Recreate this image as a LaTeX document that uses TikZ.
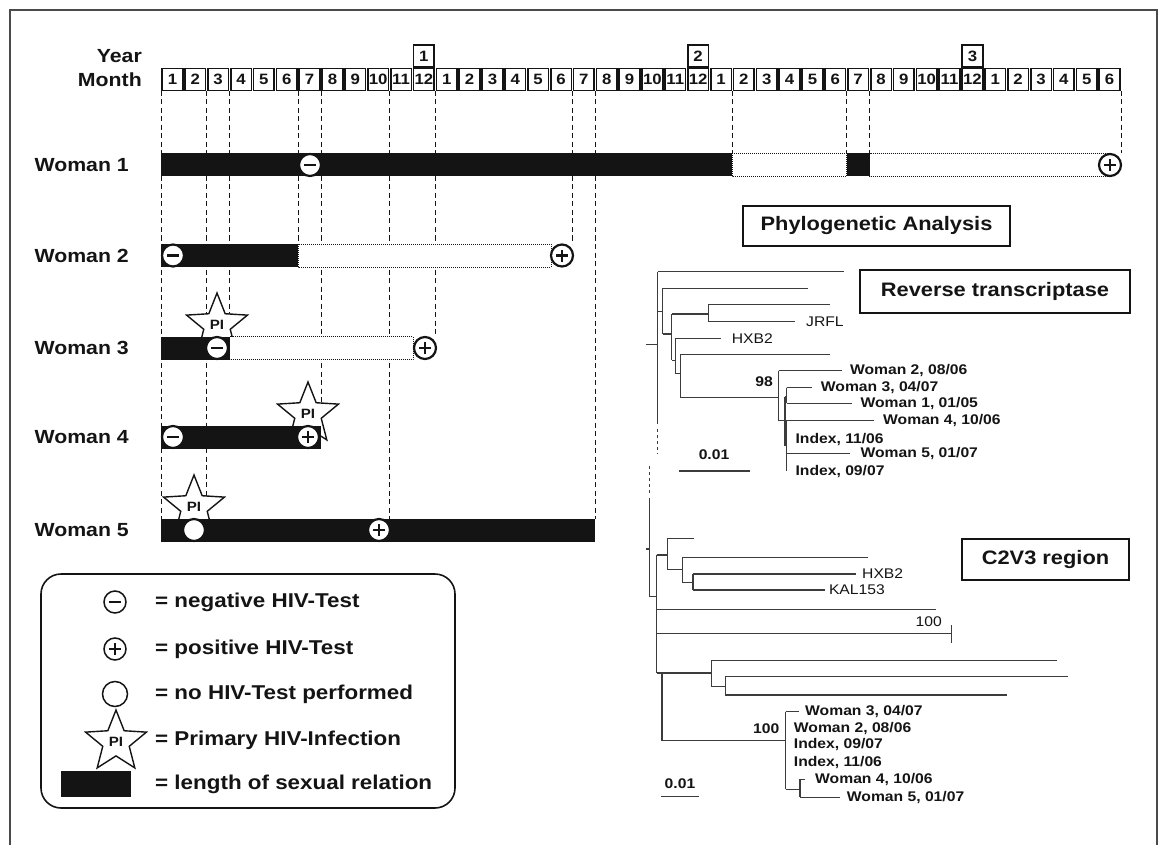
\documentclass[tikz,border=0pt]{standalone}
\usepackage{fontspec}
\setmainfont{Liberation Sans}[FakeStretch=1.12]
\usepackage{xcolor}
\usepackage{tikz}
\usetikzlibrary{shapes.geometric}
\definecolor{tlInk}{HTML}{141414}
\definecolor{tlFrame}{HTML}{4A4A4A}
\definecolor{tlTree}{HTML}{3C3C3C}
\tikzset{
  tl diagram/.style={x=1pt, y=-1pt, text=tlInk},
  tl label/.style={font=\fontsize{19}{21}\selectfont\bfseries, anchor=east, inner sep=0pt},
  tl key/.style={font=\fontsize{20}{22}\selectfont\bfseries, anchor=west, inner sep=0pt},
  tl cell/.style={draw=tlInk, fill=white, line width=1.6pt, minimum width=20.6pt,
    minimum height=22pt, inner sep=0pt, font=\fontsize{15}{15}\selectfont\bfseries},
  tl guide/.style={draw=tlInk, line width=1pt, dash pattern=on 5pt off 3.5pt},
  tl bar/.style={fill=tlInk},
  tl gap/.style={draw=tlInk, line width=1pt, densely dotted, fill=white},
  tl test/.style={circle, draw=tlInk, fill=white, line width=2.2pt,
    minimum size=22pt, inner sep=0pt},
  tl neg/.style={tl test, path picture={
    \draw[tlInk, line width=2.6pt] ([xshift=-6pt]path picture bounding box.center)
      -- ([xshift=6pt]path picture bounding box.center);}},
  tl pos/.style={tl test, path picture={
    \draw[tlInk, line width=2.6pt] ([xshift=-6pt]path picture bounding box.center)
      -- ([xshift=6pt]path picture bounding box.center)
      ([yshift=-6pt]path picture bounding box.center)
      -- ([yshift=6pt]path picture bounding box.center);}},
  tl star/.style={star, star points=5, star point ratio=2.3, minimum size=64pt,
    draw=tlInk, fill=white, line width=1.4pt, inner sep=0pt,
    font=\fontsize{13.5}{13.5}\selectfont\bfseries},
  tl title/.style={draw=tlInk, fill=white, line width=2pt, inner sep=0pt,
    font=\fontsize{19.5}{21}\selectfont\bfseries},
  tl tree/.style={draw=tlTree, line width=1.1pt},
  tl taxon/.style={font=\fontsize{14}{15}\selectfont\bfseries, anchor=west, inner sep=0pt},
  tl strain/.style={font=\fontsize{14}{15}\selectfont, anchor=west, inner sep=0pt}
}
\begin{document}
\begin{tikzpicture}[tl diagram]
\useasboundingbox (0,0) rectangle (1167,845);
\draw[tlFrame, line width=1.4pt] (10,845) -- (10,10) -- (1157,10) -- (1157,845);

\node[tl label] (year) at (142,56) {Year};
\node[tl label] (month) at (142,79.5) {Month};
\foreach \i [evaluate=\i as \mo using {int(mod(\i,12)+1)}] in {0,...,41}
  \node[tl cell] (m\i) at ({172.43+22.857*\i},79.5) {\mo};
\foreach \y/\i in {1/11,2/23,3/35}
  \node[tl cell, anchor=south] (y\y) at (m\i.north) {\y};

\foreach \i/\yend in {0/518.5,2/518.5,3/336.5,6/244,7/425.5,10/518.5,12/336.5,
    18/244,19/518.5,25/153.5,30/153.5,31/153.5,42/153.5}
  \draw[tl guide] ({161+22.857*\i},91) -- ({161+22.857*\i},\yend);

\node[tl label] (w1) at (129,165) {Woman 1};
\node[tl label] (w2) at (129,255.5) {Woman 2};
\node[tl label] (w3) at (129,348) {Woman 3};
\node[tl label] (w4) at (129,437) {Woman 4};
\node[tl label] (w5) at (129,530) {Woman 5};

\fill[tl bar] (161,153.5) rectangle (732.4,176.5);
\draw[tl gap] (732.4,153.5) rectangle (846.7,176.5);
\fill[tl bar] (846.7,153.5) rectangle (869.6,176.5);
\draw[tl gap] (869.6,153.5) rectangle (1108,176.5);
\node[tl neg] (w1neg) at (310,165) {};
\node[tl pos] (w1pos) at (1110,165) {};

\fill[tl bar] (161,244) rectangle (298.1,267);
\draw[tl gap] (298.1,244) rectangle (551,267);
\node[tl neg] (w2neg) at (173,255.5) {};
\node[tl pos] (w2pos) at (562,255.5) {};

\node[tl star] (w3pi) at (217,325) {PI};
\fill[tl bar] (161,336.5) rectangle (229.6,359.5);
\draw[tl gap] (229.6,336.5) rectangle (413,359.5);
\node[tl neg] (w3neg) at (217,348) {};
\node[tl pos] (w3pos) at (425,348) {};

\node[tl star] (w4pi) at (308,414) {PI};
\fill[tl bar] (161,425.5) rectangle (321,448.5);
\node[tl neg] (w4neg) at (173,437) {};
\node[tl pos] (w4pos) at (308,437) {};

\node[tl star] (w5pi) at (194,507) {PI};
\fill[tl bar] (161,518.5) rectangle (595.3,541.5);
\node[tl test] (w5none) at (194,530) {};
\node[tl pos] (w5pos) at (379,530) {};

\node[draw=tlInk, line width=1.6pt, rounded corners=20pt, minimum width=414pt,
  minimum height=234pt] (legend) at (248,691) {};
\node[tl neg, line width=1.5pt] (keyneg) at (115,602) {};
\node[tl key] (keynegtext) at (155,602) {= negative HIV-Test};
\node[tl pos, line width=1.5pt] (keypos) at (115,649) {};
\node[tl key] (keypostext) at (155,649) {= positive HIV-Test};
\node[tl test, line width=1.5pt, minimum size=25pt] (keynone) at (115,694) {};
\node[tl key] (keynonetext) at (155,694) {= no HIV-Test performed};
\node[tl star] (keypi) at (116,742) {PI};
\node[tl key] (keypitext) at (155,740) {= Primary HIV-Infection};
\node[fill=tlInk, minimum width=70pt, minimum height=26pt, inner sep=0pt] (keybar) at (96,784) {};
\node[tl key] (keybartext) at (155,784) {= length of sexual relation};

\node[tl title, minimum width=267pt, minimum height=40pt] (phylo) at (876.5,226) {Phylogenetic Analysis};
\node[tl title, minimum width=270pt, minimum height=43pt] (rt) at (995,291.5) {Reverse transcriptase};
\node[tl title, minimum width=167pt, minimum height=41pt] (c2v3) at (1045.5,559.5) {C2V3 region};

\draw[tl tree]
  (646.3,344.6) -- (657.9,344.6)
  (657.9,271.9) -- (657.9,423.5)
  (657.9,271.9) -- (843.9,271.9)
  (657.9,311.9) -- (662.8,311.9)
  (662.8,288.4) -- (662.8,334)
  (662.8,288.4) -- (807.7,288.4)
  (662.8,334) -- (671.9,334)
  (671.9,314) -- (671.9,360.4)
  (671.9,314) -- (708.8,314)
  (708.8,304.2) -- (708.8,321.8)
  (708.8,304.2) -- (829.8,304.2)
  (708.8,321.8) -- (795.4,321.8)
  (671.9,360.4) -- (675.4,360.4)
  (675.4,338.6) -- (675.4,373.7)
  (675.4,338.6) -- (721,338.6)
  (675.4,373.7) -- (680.4,373.7)
  (680.4,354.4) -- (680.4,397.2)
  (680.4,354.4) -- (829.8,354.4)
  (680.4,397.2) -- (778.6,397.2)
  (778.6,370.9) -- (778.6,420.7)
  (778.6,370.9) -- (841.8,370.9)
  (778.6,420.7) -- (874.4,420.7)
  (785,397) -- (785,446.3)
  (785,397) -- (786.7,397)
  (786.7,387.7) -- (786.7,403.2)
  (786.7,387.7) -- (812.3,387.7)
  (786.7,403.2) -- (851.6,403.2)
  (786.7,420.7) -- (786.7,471)
  (786.7,453.3) -- (849.8,453.3)
  (679,471) -- (750,471);
\draw[tl tree, dashed] (657.9,428.8) -- (657.9,453.3);
\node[tl strain] (rtjrfl) at (806,321.8) {JRFL};
\node[tl strain] (rthxb2) at (731.6,338.6) {HXB2};
\node[tl taxon, anchor=east] (rtboot) at (773,382) {98};
\node[tl taxon] (rtw2) at (849.8,370.9) {Woman 2, 08/06};
\node[tl taxon] (rtw3) at (820.7,387.7) {Woman 3, 04/07};
\node[tl taxon] (rtw1) at (860.4,403.2) {Woman 1, 01/05};
\node[tl taxon] (rtw4) at (883,420.7) {Woman 4, 10/06};
\node[tl taxon] (rtidxa) at (795.4,439.3) {Index, 11/06};
\node[tl taxon] (rtw5) at (860.4,453.3) {Woman 5, 01/07};
\node[tl taxon] (rtidxb) at (795.4,471.6) {Index, 09/07};
\node[tl taxon, anchor=center] (rtscale) at (714,455) {0.01};

\draw[tl tree, dashed] (649.1,466) -- (649.1,494);
\draw[tl tree]
  (646.3,549) -- (649.1,549)
  (649.1,498.3) -- (649.1,596.7)
  (649.1,596.7) -- (656.5,596.7)
  (656.5,555) -- (656.5,673)
  (656.5,555) -- (667.4,555)
  (667.4,538.3) -- (667.4,569.3)
  (667.4,538.3) -- (693.7,538.3)
  (667.4,569.3) -- (682.1,569.3)
  (682.1,557.3) -- (682.1,582.3)
  (682.1,557.3) -- (868,557.3)
  (682.1,582.3) -- (693,582.3)
  (693,574) -- (693,590)
  (693,574) -- (855.8,574)
  (693,590) -- (825.3,590)
  (656.5,609.3) -- (935.8,609.3)
  (656.5,633.3) -- (951.6,633.3)
  (951.6,625) -- (951.6,643.3)
  (656.5,673) -- (711.2,673)
  (711.2,660.7) -- (711.2,686.7)
  (711.2,660.7) -- (1056.8,660.7)
  (711.2,686.7) -- (725.3,686.7)
  (725.3,676.7) -- (725.3,695)
  (725.3,676.7) -- (1068,676.7)
  (725.3,695) -- (1006.7,695)
  (662,673) -- (662,740.7)
  (662,740.7) -- (785.7,740.7)
  (785.7,711.7) -- (785.7,789.3)
  (785.7,711.7) -- (799,711.7)
  (785.7,789.3) -- (800,789.3)
  (800,779.3) -- (800,797.3)
  (800,779.3) -- (805,779.3)
  (800,797.3) -- (840,797.3)
  (661,796.7) -- (698.7,796.7);
\node[tl strain] (cvhxb2) at (862,574) {HXB2};
\node[tl strain] (cvkal) at (828.8,590) {KAL153};
\node[tl strain, anchor=east] (cvboota) at (942,621.7) {100};
\node[tl taxon, anchor=east] (cvbootb) at (779.6,728.3) {100};
\node[tl taxon] (cvw3) at (805,711.7) {Woman 3, 04/07};
\node[tl taxon] (cvw2) at (793.7,728.3) {Woman 2, 08/06};
\node[tl taxon] (cvidxa) at (793.7,745) {Index, 09/07};
\node[tl taxon] (cvidxb) at (793.7,762.7) {Index, 11/06};
\node[tl taxon] (cvw4) at (815,779.3) {Woman 4, 10/06};
\node[tl taxon] (cvw5) at (846.7,797.3) {Woman 5, 01/07};
\node[tl taxon, anchor=center] (cvscale) at (680,783.3) {0.01};
\end{tikzpicture}
\end{document}
